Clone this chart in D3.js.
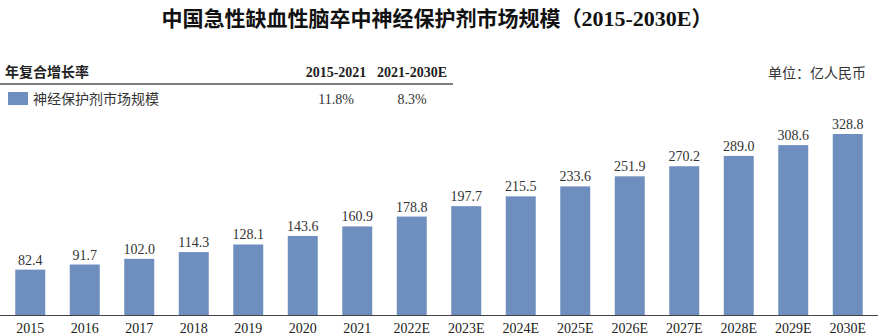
<!DOCTYPE html>
<html>
<head>
<meta charset="utf-8">
<script src="https://cdn.jsdelivr.net/npm/d3@7"></script>
<style>
  html, body { margin: 0; padding: 0; background: #fff; }
  svg { display: block; }
</style>
</head>
<body>
<svg id="chart" width="878" height="336"></svg>
<script>
// Market size of neuroprotective agents for acute ischemic stroke in China (100 million RMB)
const years = ["2015","2016","2017","2018","2019","2020","2021","2022E","2023E","2024E","2025E","2026E","2027E","2028E","2029E","2030E"];
const marketSize = [82.4, 91.7, 102.0, 114.3, 128.1, 143.6, 160.9, 178.8, 197.7, 215.5, 233.6, 251.9, 270.2, 289.0, 308.6, 328.8];
const cagrPeriods = ["2015-2021", "2021-2030E"];
const cagrValues = ["11.8%", "8.3%"];
const seriesName = "神经保护剂市场规模";
const titleMain = "中国急性缺血性脑卒中神经保护剂市场规模";
const titleRange = "2015-2030E";
const unitText = "单位：亿人民币";
const cagrHeader = "年复合增长率";

const svg = d3.select("#chart");
const barColor = "#6d8ebf";
const serif = "'Liberation Serif', 'Times New Roman', serif";
const cjk = "'Noto Sans CJK SC', sans-serif";

const baseline = 315;
const x = d3.scaleBand().domain(years).range([3, 875]).paddingInner(0.45).paddingOuter(0.225);
const y = d3.scaleLinear().domain([0, 328.8]).range([baseline, 134]);

// Title: Chinese in CJK bold, the year range in serif bold
const title = svg.append("text")
  .attr("x", 437).attr("y", 26)
  .attr("text-anchor", "middle")
  .attr("font-family", cjk)
  .attr("font-weight", "bold")
  .attr("font-size", 21)
  .attr("fill", "#111");
title.append("tspan").text(titleMain + "（");
title.append("tspan").attr("font-family", serif).attr("font-size", 22).text(titleRange);
title.append("tspan").text("）");

// CAGR table
const tbl = svg.append("g");
tbl.append("text").attr("x", 5).attr("y", 77)
  .attr("font-family", cjk).attr("font-weight", "bold").attr("font-size", 14).attr("fill", "#222")
  .text(cagrHeader);
const colX = [336, 412];
cagrPeriods.forEach((p, i) => {
  tbl.append("text").attr("x", colX[i]).attr("y", 77).attr("text-anchor", "middle")
    .attr("font-family", serif).attr("font-weight", "bold").attr("font-size", 14).attr("fill", "#222")
    .text(p);
});
tbl.append("line").attr("x1", 0).attr("x2", 453).attr("y1", 84).attr("y2", 84)
  .attr("stroke", "#555").attr("stroke-width", 1.5);
tbl.append("rect").attr("x", 8).attr("y", 92).attr("width", 20).attr("height", 13).attr("fill", barColor);
tbl.append("text").attr("x", 33).attr("y", 104)
  .attr("font-family", cjk).attr("font-size", 14).attr("fill", "#333")
  .text(seriesName);
cagrValues.forEach((v, i) => {
  tbl.append("text").attr("x", colX[i]).attr("y", 104).attr("text-anchor", "middle")
    .attr("font-family", serif).attr("font-size", 14).attr("fill", "#333")
    .text(v);
});

// Unit
svg.append("text").attr("x", 866).attr("y", 78).attr("text-anchor", "end")
  .attr("font-family", cjk).attr("font-size", 14).attr("fill", "#333")
  .text(unitText);

// Bars
svg.append("g").selectAll("rect").data(marketSize).join("rect")
  .attr("x", (d, i) => x(years[i]))
  .attr("y", d => y(d))
  .attr("width", x.bandwidth())
  .attr("height", d => baseline - y(d))
  .attr("fill", barColor);

// Value labels
svg.append("g").selectAll("text").data(marketSize).join("text")
  .attr("x", (d, i) => x(years[i]) + x.bandwidth() / 2)
  .attr("y", d => y(d) - 5)
  .attr("text-anchor", "middle")
  .attr("font-family", serif).attr("font-size", 14).attr("fill", "#333")
  .text(d => d.toFixed(1));

// Category axis
const axis = svg.append("g").attr("transform", `translate(0,${baseline})`)
  .call(d3.axisBottom(x).tickSize(0).tickPadding(0));
axis.select(".domain").attr("d", "M0,0.5H878").attr("stroke", "#444").attr("stroke-width", 1.2);
axis.selectAll("text")
  .attr("y", 18).attr("dy", 0)
  .attr("font-family", serif).attr("font-size", 14).attr("fill", "#222");
</script>
</body>
</html>
